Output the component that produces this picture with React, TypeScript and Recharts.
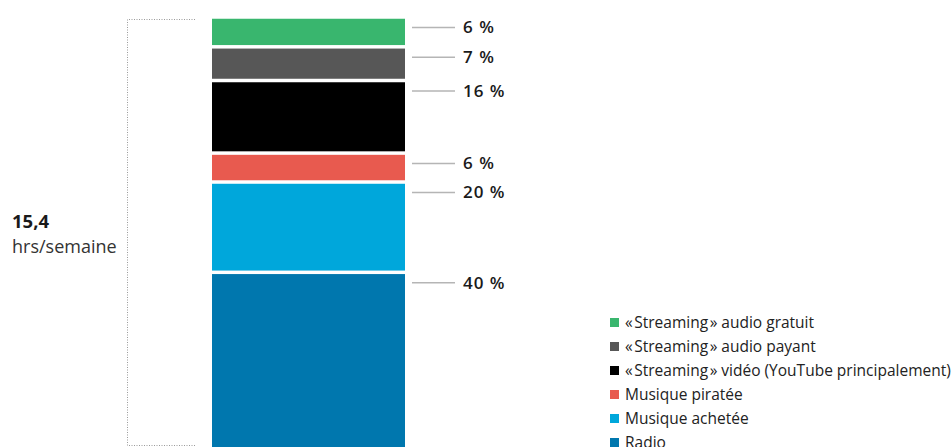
import React from "react";
import { BarChart, Bar, XAxis, YAxis, LabelList } from "recharts";

// Stack order bottom -> top
const seriesKeys = ["radio", "achetee", "piratee", "video", "payant", "gratuit"];
const seriesNames = [
  "Radio",
  "Musique achetée",
  "Musique piratée",
  "«\u200AStreaming\u200A» vidéo (YouTube principalement)",
  "«\u200AStreaming\u200A» audio payant",
  "«\u200AStreaming\u200A» audio gratuit",
];
// shares
const seriesValues = [40.9, 20.9, 6.7, 16.8, 7.8, 6.9];
const labelTexts = ["40 %", "20 %", "6 %", "16 %", "7 %", "6 %"];
const seriesColors = ["#0077ae", "#00a7db", "#e85a4f", "#000000", "#575757", "#39b66e"];

const totalValue = "15,4";
const totalUnit = "hrs/semaine";

const row: Record<string, any> = { name: "total" };
seriesKeys.forEach((k, i) => (row[k] = seriesValues[i]));
const data = [row];

const FONT = "'Open Sans', Lato, sans-serif";

const Segment = (props: any) => {
  const { x, y, width, height, fill } = props;
  const inset = 1.75;
  return <rect x={x} y={y + inset} width={width} height={Math.max(0, height - inset * 2)} fill={fill} />;
};

const makeLabel = (i: number) => (props: any) => {
  const { x, y, width } = props;
  const ly = y + 10.5;
  const x0 = x + width;
  return (
    <g>
      <line x1={x0 + 7} x2={x0 + 50} y1={ly} y2={ly} stroke="#b5b5b5" strokeWidth={1.5} />
      <text
        x={x0 + 58}
        y={ly}
        dy="0.34em"
        fontFamily={FONT}
        fontWeight={600}
        fontSize={17}
        fill="#1a1a1a"
        letterSpacing={1}
      >
        {labelTexts[i]}
      </text>
    </g>
  );
};

const LegendBox = () => {
  const order = [...seriesNames.keys()].reverse();
  return (
    <div style={{ position: "absolute", left: 610, top: 310, fontFamily: FONT, fontSize: 15.5, color: "#222" }}>
      {order.map((i) => (
        <div key={i} style={{ display: "flex", alignItems: "center", height: 24 }}>
          <span
            style={{
              display: "inline-block",
              width: 9,
              height: 9,
              background: seriesColors[i],
              marginRight: 6,
            }}
          />
          <span style={{ whiteSpace: "nowrap" }}>{seriesNames[i]}</span>
        </div>
      ))}
    </div>
  );
};

export default function App() {
  return (
    <div style={{ position: "absolute", left: 0, top: 0, width: 952, height: 447, overflow: "hidden", background: "#fff" }}>
      <svg width={952} height={447} style={{ position: "absolute", left: 0, top: 0 }}>
        <path
          d="M195 19.5 H127.5 V445.5 H195"
          fill="none"
          stroke="#9a9a9a"
          strokeWidth={1}
          strokeDasharray="1 1.5"
        />
        <text x={12} y={227.5} fontFamily={FONT} fontWeight={700} fontSize={18.5} fill="#1a1a1a">
          {totalValue}
        </text>
        <text x={12} y={252.5} fontFamily={FONT} fontSize={18} fill="#333">
          {totalUnit}
        </text>
      </svg>
      <div style={{ position: "absolute", left: 0, top: 0 }}>
        <BarChart
          width={952}
          height={449}
          data={data}
          margin={{ top: 17, right: 547, bottom: 0, left: 212 }}
          barCategoryGap={0}
        >
          <XAxis dataKey="name" hide />
          <YAxis hide domain={[0, 100]} type="number" />
          {seriesKeys.map((k, i) => (
            <Bar
              key={k}
              dataKey={k}
              stackId="a"
              fill={seriesColors[i]}
              shape={<Segment />}
              isAnimationActive={false}
            >
              <LabelList dataKey={k} content={makeLabel(i)} />
            </Bar>
          ))}
        </BarChart>
      </div>
      <LegendBox />
    </div>
  );
}
